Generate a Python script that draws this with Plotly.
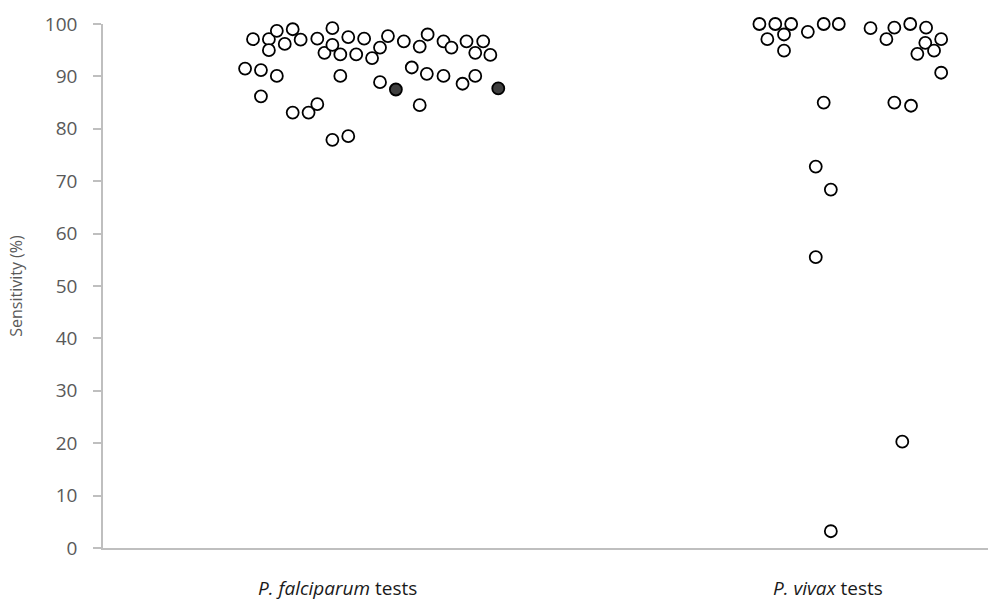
import plotly.graph_objects as go

# P. falciparum tests: jitter position, sensitivity (%)
pf_x = [17.9, 18.9, 19.9, 19.9, 20.9, 20.9, 21.9, 21.9, 22.9, 23.9, 23.9, 24.9,
        25.9, 27.0, 27.0, 27.9, 28.9, 28.9, 28.9, 29.9, 29.9, 30.9, 30.9, 31.9,
        32.9, 33.9, 34.9, 34.9, 35.9, 37.9, 38.9, 39.9, 39.9, 40.9, 40.8, 42.9,
        42.9, 43.9, 45.3, 45.8, 46.9, 46.9, 47.9, 48.8]
pf_y = [91.5, 97.1, 91.2, 86.2, 97.1, 95.0, 98.7, 90.1, 96.2, 99.0, 83.1, 97.0,
        83.1, 97.2, 84.7, 94.5, 99.2, 96.0, 77.9, 94.2, 90.1, 97.5, 78.6, 94.2,
        97.2, 93.5, 95.5, 88.9, 97.7, 96.7, 91.7, 95.7, 84.5, 98.0, 90.5, 96.7,
        90.1, 95.5, 88.6, 96.7, 94.5, 90.1, 96.7, 94.1]
# highlighted (filled) P. falciparum tests
pf_hi_x = [36.9, 49.8]
pf_hi_y = [87.5, 87.7]

# P. vivax tests
pv_x = [82.7, 83.7, 84.7, 85.8, 85.8, 86.7, 88.8, 89.8, 89.8, 90.8, 90.8, 91.7,
        91.7, 92.7, 96.7, 98.7, 99.7, 99.7, 100.7, 101.7, 101.8, 102.6, 103.7,
        103.6, 104.7, 105.6, 105.6]
pv_y = [100.0, 97.1, 100.0, 98.0, 94.9, 100.0, 98.5, 72.8, 55.5, 100.0, 85.0, 68.4,
        3.2, 100.0, 99.2, 97.1, 99.3, 85.0, 20.3, 100.0, 84.4, 94.3, 99.3,
        96.4, 94.9, 97.1, 90.7]

categories = ["<i>P. falciparum</i> tests", "<i>P. vivax</i> tests"]
category_pos = [29.5, 91.3]
y_ticks = list(range(0, 101, 10))

open_marker = dict(symbol="circle", size=12, color="white",
                   line=dict(color="black", width=1.8))
filled_marker = dict(symbol="circle", size=12, color="#3f3f3f",
                     line=dict(color="black", width=1.8))

fig = go.Figure()
fig.add_trace(go.Scatter(x=pf_x, y=pf_y, mode="markers", marker=open_marker,
                         showlegend=False, cliponaxis=False))
fig.add_trace(go.Scatter(x=pf_hi_x, y=pf_hi_y, mode="markers", marker=filled_marker,
                         showlegend=False, cliponaxis=False))
fig.add_trace(go.Scatter(x=pv_x, y=pv_y, mode="markers", marker=open_marker,
                         showlegend=False, cliponaxis=False))

for label, pos in zip(categories, category_pos):
    fig.add_annotation(x=pos, xref="x", y=0, yref="paper", yshift=-40,
                       text=label, showarrow=False, yanchor="middle",
                       font=dict(family="Open Sans", size=19, color="#1a1a1a"))

fig.update_layout(
    width=998, height=601, autosize=False,
    margin=dict(l=103, r=10, t=24, b=53),
    plot_bgcolor="white", paper_bgcolor="white",
    font=dict(family="Open Sans", color="#595959"),
)
fig.update_xaxes(range=[0, 111.5], showgrid=False, zeroline=False,
                 showline=True, linecolor="#bfbfbf", linewidth=1.5,
                 showticklabels=False, ticks="")
fig.update_yaxes(range=[0, 100], tickvals=y_ticks, showgrid=False, zeroline=False,
                 showline=True, linecolor="#bfbfbf", linewidth=1.5,
                 ticks="outside", ticklen=8, tickcolor="#bfbfbf", tickwidth=1.5,
                 tickfont=dict(family="Open Sans", size=19, color="#595959"),
                 ticklabelstandoff=12,
                 title=dict(text="Sensitivity (%)", standoff=18,
                            font=dict(family="Open Sans", size=16, color="#595959")))

fig.write_html("out.html", config={"displayModeBar": False},
               post_script="document.body.style.margin='0';")
